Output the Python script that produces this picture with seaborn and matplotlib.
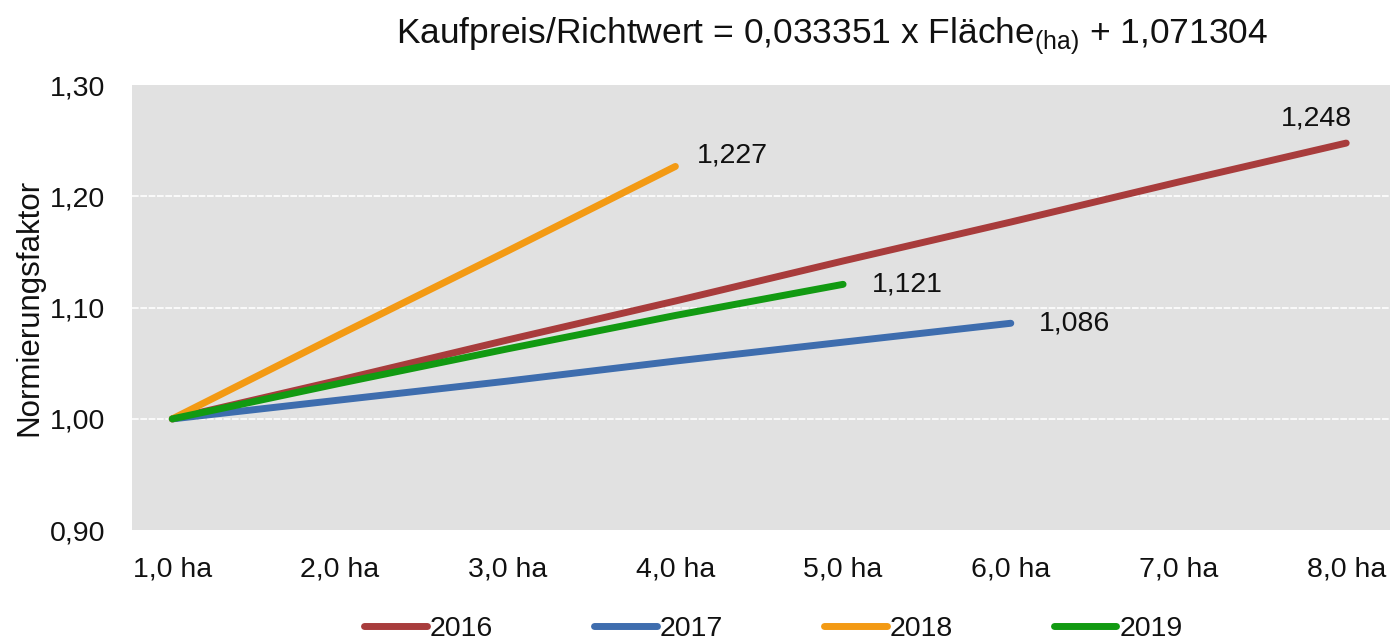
import numpy as np
import pandas as pd
import seaborn as sns
from matplotlib import pyplot as plt

# values (Normierungsfaktor per area)
flaeche_2016 = [1, 2, 3, 4, 5, 6, 7, 8]
werte_2016 = [1.000, 1.035, 1.071, 1.106, 1.142, 1.177, 1.213, 1.248]
flaeche_2017 = [1, 2, 3, 4, 5, 6]
werte_2017 = [1.000, 1.017, 1.034, 1.052, 1.069, 1.086]
flaeche_2018 = [1, 2, 3, 4]
werte_2018 = [1.000, 1.076, 1.151, 1.227]
flaeche_2019 = [1, 2, 3, 4, 5]
werte_2019 = [1.000, 1.032, 1.063, 1.093, 1.121]

jahre = ["2016", "2017", "2018", "2019"]
farben = ["#A83C3C", "#3E6DAE", "#F39A14", "#129A12"]
x_labels = ["1,0 ha", "2,0 ha", "3,0 ha", "4,0 ha", "5,0 ha", "6,0 ha", "7,0 ha", "8,0 ha"]
y_ticks = [0.90, 1.00, 1.10, 1.20, 1.30]
titel = "Kaufpreis/Richtwert = 0,033351 x Fläche$_{\\mathregular{(ha)}}$ + 1,071304"

frames = []
for jahr, xs, ys in zip(jahre,
                        [flaeche_2016, flaeche_2017, flaeche_2018, flaeche_2019],
                        [werte_2016, werte_2017, werte_2018, werte_2019]):
    frames.append(pd.DataFrame({"Fläche": xs, "Faktor": ys, "Jahr": jahr}))
df = pd.concat(frames, ignore_index=True)

sns.set_style("white")
plt.rcParams['font.family'] = ['Liberation Sans', 'DejaVu Sans']
plt.rcParams['text.color'] = '#111111'
plt.rcParams['xtick.color'] = '#111111'
plt.rcParams['ytick.color'] = '#111111'
plt.rcParams['axes.labelcolor'] = '#111111'

fig = plt.figure(figsize=(13.94, 6.41), dpi=100)
ax = fig.add_axes([0.0947, 0.173, 0.9023, 0.694])
ax.set_facecolor("#e1e1e1")

sns.lineplot(data=df, x="Fläche", y="Faktor", hue="Jahr", palette=dict(zip(jahre, farben)),
             linewidth=5, solid_capstyle="round", ax=ax, zorder=3)

ax.set_xlim(0.76, 8.26)
ax.set_ylim(0.9, 1.3)
ax.set_xticks(range(1, 9))
ax.set_xticklabels(x_labels, fontsize=20.5)
ax.set_yticks(y_ticks)
ax.set_yticklabels([f"{v:.2f}".replace(".", ",") for v in y_ticks], fontsize=20.5)
ax.tick_params(axis="x", length=0, pad=19)
ax.tick_params(axis="y", length=0, pad=19)
for v in [1.0, 1.1, 1.2]:
    ax.axhline(v, color="white", linewidth=1.2, linestyle=(0, (4, 1)), zorder=1)
for s in ax.spines.values():
    s.set_visible(False)

ax.set_xlabel("")
ax.set_ylabel("Normierungsfaktor", fontsize=22.5, labelpad=4)
fig.text(0.597, 0.943, titel, fontsize=25.5, ha="center", va="center")

# end labels
for xs, ys, dx, dy in [(flaeche_2016, werte_2016, -0.18, 0.022),
                       (flaeche_2017, werte_2017, 0.17, 0.0),
                       (flaeche_2018, werte_2018, 0.13, 0.010),
                       (flaeche_2019, werte_2019, 0.17, 0.0)]:
    ax.text(xs[-1] + dx, ys[-1] + dy, f"{ys[-1]:.3f}".replace(".", ","),
            fontsize=20.5, ha="left" if dx > 0 else "center", va="center")

handles, labels = ax.get_legend_handles_labels()
ax.legend(handles, labels, loc="upper center", bbox_to_anchor=(0.51, -0.135), ncol=4,
          frameon=False, fontsize=20.5, handlelength=2.2, handletextpad=0.1, columnspacing=3.55)

plt.savefig("out.png", dpi=100)
